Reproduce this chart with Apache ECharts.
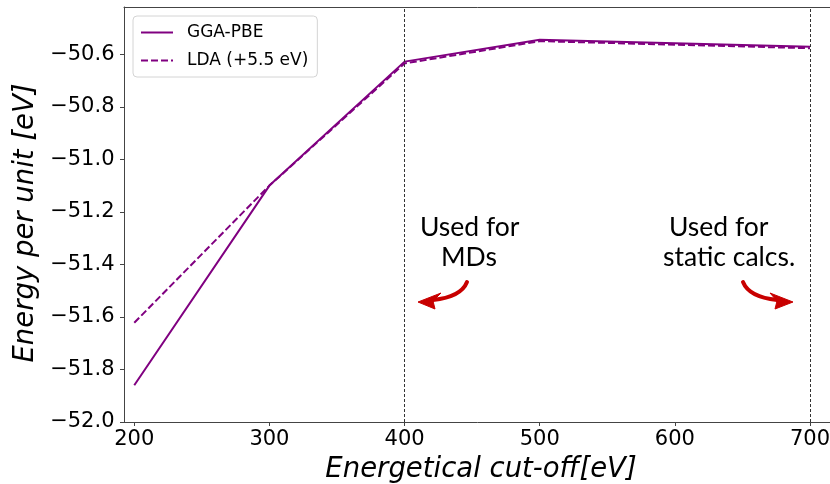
<!DOCTYPE html>
<html>
<head>
<meta charset="utf-8">
<title>Energy convergence vs cut-off</title>
<script src="https://cdn.jsdelivr.net/npm/echarts@6/dist/echarts.min.js"></script>
<style>
  html, body { margin: 0; padding: 0; background: #fff; overflow: hidden; }
  #chart { width: 830px; height: 484px; }
</style>
</head>
<body>
<div id="chart"></div>
<script>
// Plane-wave cut-off energies (eV)
const cutoffs = [200, 300, 400, 500, 700];
// Total energy per formula unit (eV)
const ggaPbe = [-51.86, -51.10, -50.628, -50.545, -50.571];
const ldaShifted = [-51.622, -51.10, -50.635, -50.55, -50.577];
// Chosen cut-offs, drawn as vertical guides
const chosenCutoffs = [400, 700];
// Tick values
const xTicks = [200, 300, 400, 500, 600, 700];
const yTicks = [-52.0, -51.8, -51.6, -51.4, -51.2, -51.0, -50.8, -50.6];

const seriesNames = ['GGA-PBE', 'LDA (+5.5 eV)'];
const purple = '#800080';
const mathFont = 'DejaVu Sans';
const spine = '#444';

// x range runs past the right edge of the canvas, so the frame is open there
const xMin = 192.4;
const xMax = 722.2;

const fmtNum = (v, d) => v.toFixed(d).replace('-', '\u2212');

const chart = echarts.init(document.getElementById('chart'), null, { renderer: 'canvas' });

const option = {
  animation: false,
  backgroundColor: '#fff',
  grid: { left: 124, right: -10, top: 7, bottom: 62, containLabel: false, outerBoundsMode: 'none' },
  legend: {
    orient: 'vertical',
    left: 133,
    top: 16,
    data: seriesNames,
    itemWidth: 32,
    itemHeight: 14,
    itemGap: 11,
    padding: [8, 9, 8, 7],
    borderColor: '#d4d4d4',
    borderWidth: 1,
    borderRadius: 4,
    backgroundColor: 'rgba(255,255,255,0.85)',
    itemStyle: { opacity: 0 },
    textStyle: { fontFamily: mathFont, fontSize: 17, color: '#000', padding: [0, 0, 0, 9] }
  },
  xAxis: [
    {
      type: 'value',
      min: xMin,
      max: xMax,
      position: 'bottom',
      name: 'Energetical cut-off[eV]',
      nameLocation: 'middle',
      nameGap: 34,
      nameTextStyle: { fontFamily: mathFont, fontStyle: 'italic', fontSize: 27.5, color: '#000', verticalAlign: 'top', padding: [0, 2, 0, 0] },
      splitLine: { show: false },
      axisLine: { show: true, lineStyle: { color: spine, width: 1 } },
      axisTick: { show: true, inside: false, length: 4, customValues: xTicks, lineStyle: { color: spine } },
      axisLabel: {
        customValues: xTicks,
        margin: 7,
        fontFamily: mathFont,
        fontSize: 21,
        color: '#000',
        formatter: v => fmtNum(v, 0)
      }
    },
    {
      type: 'value',
      min: xMin,
      max: xMax,
      position: 'top',
      splitLine: { show: false },
      axisLine: { show: true, lineStyle: { color: spine, width: 1 } },
      axisTick: { show: false },
      axisLabel: { show: false }
    }
  ],
  yAxis: {
    type: 'value',
    min: -52.0,
    max: -50.42,
    name: 'Energy per unit [eV]',
    nameLocation: 'middle',
    nameGap: 78,
    nameTextStyle: { fontFamily: mathFont, fontStyle: 'italic', fontSize: 27.5, color: '#000', padding: [0, 17, 0, 0] },
    splitLine: { show: false },
    axisLine: { show: true, lineStyle: { color: spine, width: 1 } },
    axisTick: { show: true, inside: false, length: 4, customValues: yTicks, lineStyle: { color: spine } },
    axisLabel: {
      customValues: yTicks,
      margin: 9.5,
      fontFamily: mathFont,
      fontSize: 21,
      color: '#000',
      formatter: v => fmtNum(v, 1)
    }
  },
  series: [
    {
      name: seriesNames[0],
      type: 'line',
      xAxisIndex: 0,
      data: cutoffs.map((c, i) => [c, ggaPbe[i]]),
      symbol: 'none',
      color: purple,
      lineStyle: { color: purple, width: 2 },
      z: 3,
      markLine: {
        silent: true,
        symbol: 'none',
        label: { show: false },
        lineStyle: { color: '#333', width: 1, type: [3, 2] },
        data: chosenCutoffs.map(c => ({ xAxis: c }))
      }
    },
    {
      name: seriesNames[1],
      type: 'line',
      xAxisIndex: 0,
      data: cutoffs.map((c, i) => [c, ldaShifted[i]]),
      symbol: 'none',
      color: purple,
      lineStyle: { color: purple, width: 2, type: [7, 3] },
      z: 4
    }
  ]
};

chart.setOption(option);

// Annotations: notes and curved arrows pointing at the chosen cut-offs
const noteFont = '26.5px Lato';
const red = '#c80000';
function arrow(start, ctrl, end, head) {
  return [
    {
      type: 'bezierCurve',
      shape: { x1: start[0], y1: start[1], cpx1: ctrl[0], cpy1: ctrl[1], x2: end[0], y2: end[1] },
      style: { stroke: red, lineWidth: 4, fill: null, lineCap: 'round' },
      z: 10
    },
    {
      type: 'polygon',
      shape: { points: head },
      style: { fill: red, stroke: red, lineWidth: 1 },
      z: 10
    }
  ];
}

chart.setOption({
  graphic: [
    { type: 'text', left: 420, top: 214, style: { text: 'Used for', font: noteFont, fill: '#000' } },
    { type: 'text', left: 441, top: 244, style: { text: 'MDs', font: noteFont, fill: '#000' } },
    { type: 'text', left: 669, top: 214, style: { text: 'Used for', font: noteFont, fill: '#000' } },
    { type: 'text', left: 663, top: 244, style: { text: 'static calcs.', font: noteFont, fill: '#000' } },
    ...arrow([467, 282], [461, 297], [433, 300], [[418, 302], [441, 293], [433, 301], [435, 309]]),
    ...arrow([743, 282], [749, 297], [777, 300], [[793, 302], [770, 293], [777, 301], [775, 309]])
  ]
});
</script>
</body>
</html>
